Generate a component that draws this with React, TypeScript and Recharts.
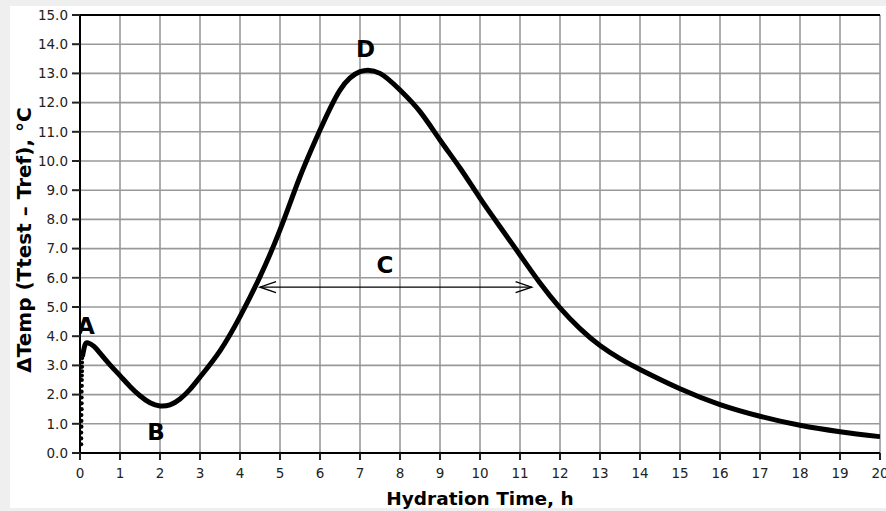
import React from 'react';
import {
  ComposedChart,
  Line,
  Scatter,
  XAxis,
  YAxis,
  CartesianGrid,
  ReferenceLine,
  Customized,
} from 'recharts';

// ---- Data ----
const curveHours = [
  0.06, 0.12, 0.2, 0.35, 0.5, 0.75, 1.0, 1.25, 1.5, 1.75, 2.0, 2.25, 2.5, 2.75, 3.0,
  3.5, 4.0, 4.5, 5.0, 5.5, 6.0, 6.5, 7.0, 7.5, 8.0, 8.5, 9.0, 9.5, 10.0, 10.5,
  11.0, 11.5, 12.0, 12.5, 13.0, 13.5, 14.0, 15.0, 16.0, 17.0, 18.0, 19.0, 20.0,
];
const curveDeltaTemp = [
  3.3, 3.68, 3.77, 3.65, 3.42, 3.02, 2.65, 2.28, 1.96, 1.72, 1.61, 1.65, 1.85, 2.18, 2.6,
  3.5, 4.67, 6.04, 7.64, 9.46, 11.06, 12.43, 13.06, 13.0, 12.43, 11.69, 10.72, 9.76,
  8.73, 7.75, 6.78, 5.82, 4.97, 4.26, 3.68, 3.23, 2.86, 2.2, 1.66, 1.26, 0.95, 0.73, 0.56,
];

// initial steep rise drawn as dots
const riseHours = [0.03, 0.03, 0.03, 0.035, 0.035, 0.035, 0.04, 0.04, 0.04, 0.04, 0.045, 0.045, 0.045, 0.05, 0.05, 0.05, 0.055];
const riseDeltaTemp = [0.3, 0.5, 0.7, 0.9, 1.1, 1.3, 1.5, 1.7, 1.9, 2.1, 2.3, 2.5, 2.65, 2.8, 2.95, 3.1, 3.25];

// double arrow "C"
const arrowHours = [4.5, 11.29];
const arrowDeltaTemp = [5.68, 5.68];

// point labels
const labelNames = ['A', 'B', 'C', 'D'];
const labelHours = [0.15, 1.9, 7.625, 7.14];
const labelDeltaTemp = [4.35, 0.73, 6.44, 13.86];

const xTicks = [0, 1, 2, 3, 4, 5, 6, 7, 8, 9, 10, 11, 12, 13, 14, 15, 16, 17, 18, 19, 20];
const yTicks = [0, 1, 2, 3, 4, 5, 6, 7, 8, 9, 10, 11, 12, 13, 14, 15];

const xTitle = 'Hydration Time, h';
const yTitle = 'ΔTemp (Ttest – Tref), °C';

// ---- Built tables ----
const curve = curveHours.map((t, i) => ({ t, v: curveDeltaTemp[i] }));
const rise = riseHours.map((t, i) => ({ t, v: riseDeltaTemp[i] }));
const arrow = arrowHours.map((t, i) => ({ t, v: arrowDeltaTemp[i] }));
const labels = labelNames.map((name, i) => ({ t: labelHours[i], v: labelDeltaTemp[i], name }));

const FONT = "'DejaVu Sans', Verdana, sans-serif";

const ArrowHead = (props: any) => {
  const { cx, cy, index } = props;
  if (cx == null || cy == null) return <g key={`ah-${index}`} />;
  const dir = index === 0 ? 1 : -1;
  const len = 16;
  const half = 5.5;
  return (
    <path
      key={`ah-${index}`}
      d={`M${cx + dir * len},${cy - half} L${cx},${cy} L${cx + dir * len},${cy + half}`}
      fill="none"
      stroke="#000"
      strokeWidth={1.4}
    />
  );
};

const LabelShape = (props: any) => {
  const { cx, cy, payload } = props;
  return (
    <text
      x={cx}
      y={cy}
      dy="0.36em"
      textAnchor="middle"
      fontFamily={FONT}
      fontWeight="bold"
      fontSize={23}
      fill="#000"
    >
      {payload.name}
    </text>
  );
};

const DotShape = (props: any) => {
  const { cx, cy } = props;
  return <circle cx={cx} cy={cy} r={2.1} fill="#000" />;
};

const YTitle = () => (
  <text
    transform="translate(24, 240) rotate(-90)"
    textAnchor="middle"
    dominantBaseline="central"
    fontFamily={FONT}
    fontWeight="bold"
    fontSize={20}
    fill="#000"
  >
    {yTitle}
  </text>
);

export default function App() {
  return (
    <div style={{ position: 'absolute', left: 0, top: 0, width: 886, height: 511, background: '#efefef' }}>
      <div style={{ position: 'absolute', left: 10, top: 6, width: 876, height: 502, background: '#ffffff' }} />
      <div style={{ position: 'absolute', left: 0, top: 0 }}>
        <ComposedChart width={886} height={511} margin={{ top: 15, right: 6, bottom: 0, left: 0 }}>
          <CartesianGrid stroke="#999999" strokeWidth={1.6} />
          <XAxis
            type="number"
            dataKey="t"
            domain={[0, 20]}
            ticks={xTicks}
            interval={0}
            height={58}
            allowDataOverflow
            axisLine={{ stroke: '#000', strokeWidth: 2 }}
            tickLine={{ stroke: '#222', strokeWidth: 2 }}
            tickSize={7}
            tickMargin={8}
            tick={{ fontSize: 13.5, fill: '#222', fontFamily: FONT }}
            label={{
              value: xTitle,
              position: 'insideBottom',
              offset: 6,
              fontFamily: FONT,
              fontWeight: 'bold',
              fontSize: 18.5,
              fill: '#000',
            }}
          />
          <YAxis
            type="number"
            dataKey="v"
            domain={[0, 15]}
            ticks={yTicks}
            interval={0}
            width={80}
            allowDataOverflow
            axisLine={{ stroke: '#000', strokeWidth: 2 }}
            tickLine={{ stroke: '#222', strokeWidth: 2 }}
            tickSize={8}
            tickMargin={4}
            tickFormatter={(v: number) => v.toFixed(1)}
            tick={{ fontSize: 13.5, fill: '#222', fontFamily: FONT }}
          />
          <ReferenceLine y={15} stroke="#000" strokeWidth={2} ifOverflow="extendDomain" />
          <Scatter data={rise} dataKey="v" shape={DotShape} isAnimationActive={false} />
          <Line
            data={curve}
            dataKey="v"
            type="natural"
            stroke="#000"
            strokeWidth={5}
            dot={false}
            activeDot={false}
            isAnimationActive={false}
          />
          <Line
            data={arrow}
            dataKey="v"
            type="linear"
            stroke="#000"
            strokeWidth={1.4}
            dot={ArrowHead}
            activeDot={false}
            isAnimationActive={false}
          />
          <Scatter data={labels} dataKey="v" shape={LabelShape} isAnimationActive={false} />
          <Customized component={YTitle} />
        </ComposedChart>
      </div>
    </div>
  );
}
